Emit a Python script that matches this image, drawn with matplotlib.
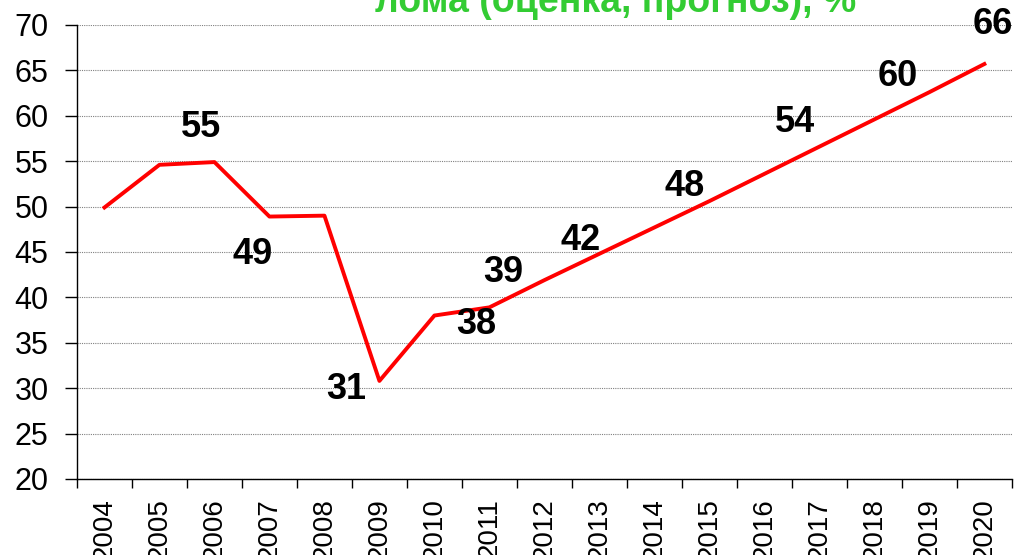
import numpy as np
import matplotlib.pyplot as plt

plt.rcParams['font.family'] = ['Liberation Sans', 'DejaVu Sans']

# ----- data -----
years = [str(y) for y in range(2004, 2021)]
values = [49.9, 54.6, 54.9, 48.9, 49.0, 30.8, 38.0, 38.9,
          41.9, 44.8, 47.7, 50.6, 53.6, 56.6, 59.6, 62.6, 65.7]

# data labels: text and where it sits (category index, value)
label_text = ["55", "49", "31", "38", "39", "42", "48", "54", "60", "66"]
label_x = [1.75, 2.7, 4.4, 6.76, 7.25, 8.65, 10.55, 12.56, 14.42, 16.15]
label_y = [58.7, 44.7, 29.9, 37.0, 42.7, 46.3, 52.2, 59.3, 64.3, 70.1]

title = "лома (оценка, прогноз), %"

# ----- figure -----
fig = plt.figure(figsize=(10.14, 5.55), dpi=100)
ax = fig.add_axes([0.0759, 0.137, 0.922, 0.818])

x = np.arange(len(years))
ax.plot(x, values, color='red', lw=2.8, zorder=3)

for t, lx, ly in zip(label_text, label_x, label_y):
    ax.text(lx, ly, t, ha='center', va='center', fontsize=26,
            fontweight='bold', color='black', clip_on=False)

ax.set_xlim(-0.5, len(years) - 0.5)
ax.set_ylim(20, 70)
ax.set_yticks(np.arange(20, 71, 5))
ax.yaxis.grid(True, color='#808080', ls=(0, (1, 1)), lw=0.8)
ax.set_axisbelow(True)

ax.set_xticks(x)
ax.set_xticklabels(years, rotation=90, fontsize=20)
ax.set_xticks(np.arange(-0.5, len(years)), minor=True)
ax.tick_params(axis='x', which='major', length=0, pad=14)
ax.tick_params(axis='x', which='minor', length=6.5, width=1, direction='out')
ax.tick_params(axis='y', labelsize=22, length=8.5, width=1, direction='out', pad=12)

for s in ['top', 'right']:
    ax.spines[s].set_visible(False)
for s in ['left', 'bottom']:
    ax.spines[s].set_linewidth(1)

fig.text(0.607, 0.978, title, ha='center', va='baseline', fontsize=27,
         fontweight='bold', color='#33cc33')

fig.savefig('out.png', dpi=100)
